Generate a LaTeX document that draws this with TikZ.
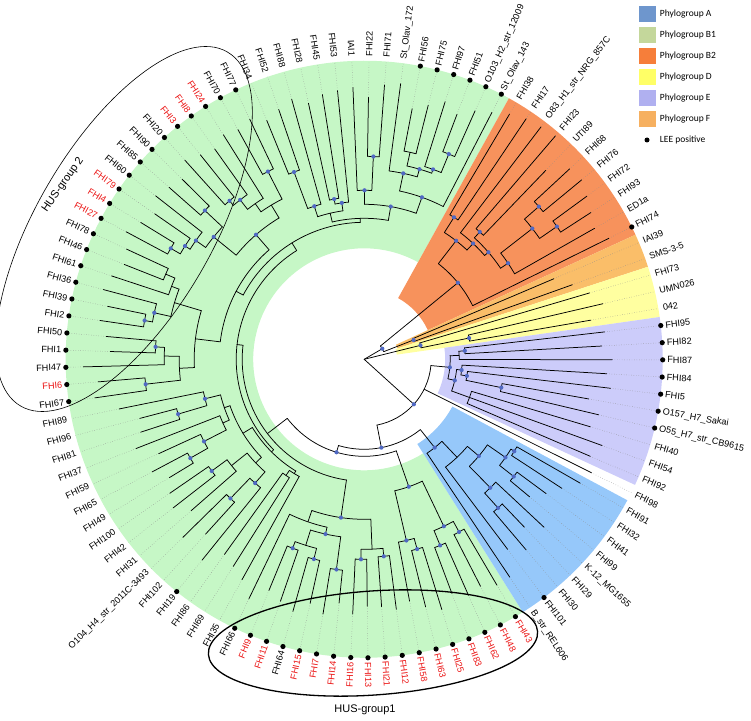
\documentclass[tikz,border=0pt]{standalone}
\usepackage{fontspec}
\setmainfont{Liberation Sans}
\newfontfamily\legfont{Carlito}
\usetikzlibrary{shapes.geometric}
\pgfdeclarelayer{fg}
\pgfsetlayers{main,fg}
\definecolor{secB1}{RGB}{198,247,198}
\definecolor{secB2}{RGB}{247,146,92}
\definecolor{secF}{RGB}{250,190,105}
\definecolor{secD}{RGB}{255,255,160}
\definecolor{secE}{RGB}{204,204,250}
\definecolor{secA}{RGB}{150,200,250}
\definecolor{legA}{RGB}{110,150,205}
\definecolor{legB1}{RGB}{196,215,155}
\definecolor{legB2}{RGB}{246,126,58}
\definecolor{legD}{RGB}{255,255,102}
\definecolor{legE}{RGB}{176,176,240}
\definecolor{legF}{RGB}{246,176,96}
\definecolor{ndot}{RGB}{80,105,195}
\definecolor{hred}{RGB}{235,20,20}
\def\dA{3.3027523}
\newcommand\thetaof[2]{\pgfmathsetmacro#1{6.5-(#2-1)*\dA}}
\tikzset{
  tline/.style={line width=0.75pt, black, line cap=round},
  dline/.style={line width=0.45pt, black!45, dotted},
  nodedot/.style={fill=ndot},
  lab/.style={inner sep=0pt, font=\fontsize{9.1}{10}\selectfont},
  legtext/.style={inner sep=0pt, font=\legfont\fontsize{9.5}{11}\selectfont},
  husA/.style={draw, ellipse, line width=1.3pt, inner sep=0pt},
  husB/.style={draw, ellipse, line width=0.6pt, inner sep=0pt},
}
\newcommand\cladecore[3]{%
  \gdef\cfirst{}%
  \foreach \cc in {#3}{\ifx\cfirst\empty\xdef\cfirst{\cc}\fi\xdef\clast{\cc}}%
  \edef\aF{\csname ai@\cfirst\endcsname}%
  \edef\aL{\csname ai@\clast\endcsname}%
  \pgfmathsetmacro\aM{(\aF+\aL)/2}%
  \expandafter\xdef\csname ai@#1\endcsname{\aM}%
  \expandafter\xdef\csname rr@#1\endcsname{#2}%
  \thetaof\tF\aF \thetaof\tL\aL
  \draw[tline] (\tF:#2pt) arc[start angle=\tF, end angle=\tL, radius=#2pt];
  \foreach \cc in {#3}{%
    \edef\ac{\csname ai@\cc\endcsname}\edef\rc{\csname rr@\cc\endcsname}%
    \thetaof\tc\ac
    \draw[tline] (\tc:#2pt) -- (\tc:\rc pt);}%
  \thetaof\tM\aM
  \coordinate (n-#1) at (\tM:#2pt);
}
\newcommand\cl[3]{\cladecore{#1}{#2}{#3}}
\newcommand\cld[3]{\cladecore{#1}{#2}{#3}\begin{pgfonlayer}{fg}\fill[nodedot] (n-#1) circle (2.1pt);\end{pgfonlayer}}
\newcommand\sector[5]{%
  \thetaof\sA{#2-0.5}\thetaof\sB{#3+0.5}%
  \fill[#1] (\sA:#4pt) arc[start angle=\sA, end angle=\sB, radius=#4pt] -- (\sB:#5pt) arc[start angle=\sB, end angle=\sA, radius=#5pt] -- cycle;}
\begin{document}
\begin{tikzpicture}[x=1pt,y=1pt]
\useasboundingbox (-364.2,-360.7) rectangle (386.8,359.3);
% sectors
\sector{secB1}{21}{93}{111}{298.5}
\sector{secB2}{94}{104}{70}{298.5}
\sector{secF}{105}{106}{35}{298.5}
\sector{secD}{107}{109}{33}{298.5}
\sector{secE}{1}{10}{81}{298.5}
\sector{secA}{12}{20}{100}{298.5}
% leaves: index / tip radius
\foreach \i/\r in {1/242,2/238,3/248,4/243,5/248,6/228,7/241,8/236,9/253,10/246,
 11/254,12/249,13/236,14/226,15/215,16/246,17/232,18/250,19/238,20/262,
 21/262,22/255,23/258,24/250,25/262,26/255,27/246,28/252,29/248,30/247,31/255,32/245,33/258,34/250,35/262,36/256,37/250,38/266,
 39/252,40/245,41/240,42/258,43/236,44/254,45/230,46/242,47/236,48/228,49/240,50/226,51/245,52/235,53/232,54/250,
 55/272,56/267,57/281,58/254,59/259,60/267,61/262,62/270,63/266,64/258,65/262,66/270,67/262,68/255,69/265,70/260,71/256,72/268,73/262,74/258,75/265,76/262,77/266,
 78/258,79/264,80/270,81/262,82/268,83/270,84/272,85/262,86/275,87/278,88/255,89/262,90/270,91/262,92/272,93/278,
 94/285,95/290,96/292,97/294,98/262,99/280,100/282,101/276,102/270,103/265,104/273,
 105/206,106/221,107/235,108/245,109/230}{%
  \expandafter\xdef\csname ai@\i\endcsname{\i}%
  \expandafter\xdef\csname rr@\i\endcsname{\r}%
  \thetaof\tc\i
  \coordinate (l-\i) at (\tc:\r pt);
  \draw[dline] (l-\i) -- (\tc:298.5pt);
}
% E
\cld{e1}{101}{1,2}
\cl{e2}{95}{e1,3}
\cld{e4}{140}{6,7}
\cld{e3}{104}{5,e4}
\cld{e5}{98}{4,e3}
\cl{e6}{112}{8,9,10}
\cld{e7}{93}{e5,e6}
\cld{nE}{86}{e2,e7}
% A
\cld{a1}{176}{12,13}
\cld{a2}{190}{14,15}
\cld{a3}{172}{a1,a2}
\cld{a4}{200}{17,18}
\cld{a5}{180}{16,a4}
\cld{a6}{150}{a3,a5}
\cl{a7}{135}{a6,19}
\cld{nA}{113}{a7,20}
% B1a
\cld{b1}{197}{21,22}
\cld{b2}{201}{23,24}
\cld{b3}{185}{b1,b2}
\cld{b4}{197}{25,26}
\cld{b5}{186}{b4,27}
\cld{nB1a}{135}{b3,b5}
% H
\cld{h1}{198}{28,29}
\cld{h2}{200}{30,31}
\cl{h3}{190}{h1,h2}
\cld{h4}{212}{32,33}
\cld{h5}{206}{34,35}
\cld{h6}{202}{36,37}
\cl{h7}{195}{h5,h6}
\cld{h8}{179}{h4,h7}
\cl{h9}{172}{h8,38}
\cld{nH}{160}{h3,h9}
% G1
\cl{g1}{140}{40,41}
\cl{g2}{134}{39,g1}
\cld{g3}{193}{43,44}
\cld{g4}{165}{42,g3}
\cld{g5}{189}{46,47}
\cl{g6}{170}{45,g5}
\cld{g7}{200}{48,49}
\cld{g8}{180}{g7,50}
\cl{g9}{155}{g8,51}
\cld{g10}{194}{52,53}
\cld{g11}{164}{g10,54}
\cl{g12}{148}{g9,g11}
\cl{g13}{150}{g4,g6}
\cl{g14}{142}{g13,g12}
\cl{nG1}{131}{g2,g14}
% G2
\cld{q1}{220}{55,56}
\cld{q2}{209}{58,59}
\cl{q3}{200}{57,q2}
\cld{q4}{223}{60,61}
\cld{q5}{215}{q4,62}
\cl{q6}{216}{64,65}
\cl{q7}{206}{63,q6}
\cl{q8}{198}{q5,q7}
\cld{q9}{223}{66,67}
\cld{q10}{212}{q9,68}
\cld{q11}{206}{q10,69}
\cld{q12}{218}{70,71}
\cld{q13}{194}{q11,q12}
\cld{q14}{208}{72,73}
\cld{q15}{202}{q14,74}
\cl{q16}{190}{q15,75}
\cld{q17}{211}{76,77}
\cl{q18}{180}{q16,q17}
\cl{q19}{185}{q1,q3}
\cl{q20}{170}{q19,q8}
\cld{q21}{165}{q13,q18}
\cl{nG2}{145}{q20,q21}
% G3
\cld{t1}{200}{78,79}
\cld{t2}{161}{t1,80}
\cld{t3}{163}{81,82}
\cld{t4}{158}{t3,83}
\cld{t5}{203}{85,86}
\cld{t6}{169}{84,t5}
\cld{t7}{222}{91,92}
\cld{t8}{202}{90,t7}
\cl{t9}{212}{88,89}
\cld{t11}{198}{t9,t8}
\cld{t10}{190}{87,t11}
\cld{t12}{172}{t10,93}
\cld{t13}{155}{t6,t12}
\cl{t14}{150}{t2,t4}
\cl{nG3}{141}{t14,t13}
% ladder
\cl{nN3}{137}{nG2,nG3}
\cl{nN2}{128}{nG1,nN3}
\cl{nN1}{122}{nH,nN2}
\cld{nB1}{97}{nB1a,nN1}
\cld{nd}{90}{nA,nB1}
% B2, F, D
\cld{x1}{168}{94,95}
\cld{z1}{172}{97,98}
\cld{r1}{232}{99,100}
\cld{s1}{234}{101,102}
\cld{q0}{213}{r1,s1}
\cld{v1}{173}{q0,103}
\cld{w1}{164}{z1,v1}
\cld{y1}{159}{96,w1}
\cld{nB2a}{150}{x1,y1}
\cld{nB2}{121}{nB2a,104}
\cld{nF}{53}{105,106}
\cld{nD1}{107}{108,109}
\cld{nD}{58}{107,nD1}
\cld{na}{21}{nB2,nF}
\cld{nc}{67}{nE,11,nd}
% root
\coordinate (root) at (0,0);
\foreach \cc in {nc,na,nD}{\draw[tline] (root) -- (n-\cc);}
% LEE dots
\foreach \i in {1,...,7,19,21,22,...,38,42,55,56,...,77,88,89,...,93,104}{%
  \thetaof\tc\i
  \fill (\tc:298.5pt) circle (2.6pt);
}
% labels
\foreach \i/\nm/\lc in {1/FHI95/black,2/FHI82/black,3/FHI87/black,4/FHI84/black,5/FHI5/black,
 6/O157\_H7\_Sakai/black,7/O55\_H7\_str\_CB9615/black,8/FHI40/black,9/FHI54/black,10/FHI92/black,
 11/FHI98/black,12/FHI91/black,13/FHI32/black,14/FHI41/black,15/FHI99/black,16/K-12\_MG1655/black,
 17/FHI29/black,18/FHI30/black,19/FHI101/black,20/B\_str\_REL606/black,
 21/FHI43/hred,22/FHI48/hred,23/FHI62/hred,24/FHI83/hred,25/FHI25/hred,26/FHI63/hred,27/FHI58/hred,
 28/FHI12/hred,29/FHI21/hred,30/FHI13/hred,31/FHI16/hred,32/FHI14/hred,33/FHI7/hred,34/FHI15/hred,
 35/FHI64/black,36/FHI11/hred,37/FHI9/hred,38/FHI66/black,39/FHI35/black,40/FHI69/black,41/FHI86/black,
 42/FHI19/black,43/FHI102/black,44/O104\_H4\_str\_2011C-3493/black,45/FHI31/black,46/FHI42/black,
 47/FHI100/black,48/FHI49/black,49/FHI65/black,50/FHI59/black,51/FHI37/black,52/FHI81/black,
 53/FHI96/black,54/FHI89/black,55/FHI67/black,56/FHI6/hred,57/FHI47/black,58/FHI1/black,59/FHI50/black,
 60/FHI2/black,61/FHI39/black,62/FHI36/black,63/FHI61/black,64/FHI46/black,65/FHI78/black,
 66/FHI27/hred,67/FHI4/hred,68/FHI79/hred,69/FHI60/black,70/FHI85/black,71/FHI90/black,72/FHI20/black,
 73/FHI3/hred,74/FHI8/hred,75/FHI24/hred,76/FHI70/black,77/FHI77/black,78/FHI34/black,79/FHI52/black,
 80/FHI88/black,81/FHI28/black,82/FHI45/black,83/FHI53/black,84/IAI1/black,85/FHI22/black,86/FHI71/black,
 87/St\_Olav\_172/black,88/FHI56/black,89/FHI75/black,90/FHI97/black,91/FHI51/black,
 92/O103\_H2\_str\_12009/black,93/St\_Olav\_143/black,94/FHI38/black,95/FHI17/black,
 96/O83\_H1\_str\_NRG\_857C/black,97/FHI23/black,98/UTI89/black,99/FHI68/black,100/FHI76/black,
 101/FHI72/black,102/FHI93/black,103/ED1a/black,104/FHI74/black,105/IAI39/black,106/SMS-3-5/black,
 107/FHI73/black,108/UMN026/black,109/042/black}{%
  \thetaof\tc\i
  \pgfmathsetmacro\tn{\tc < -270 ? \tc+360 : \tc}%
  \pgfmathtruncatemacro\isright{\tn > -90 ? 1 : 0}%
  \ifnum\isright=1
    \node[lab,text=\lc,anchor=west,rotate=\tn] (L\i) at (\tc:303pt) {\nm};
  \else
    \pgfmathsetmacro\rt{\tn+180}%
    \node[lab,text=\lc,anchor=east,rotate=\rt] (L\i) at (\tc:303pt) {\nm};
  \fi
}
% HUS groups
\node[husA, minimum width=330pt, minimum height=104pt, rotate=4] (hus1) at (8.8,-283.7) {};
\node[font=\fontsize{11}{13}\selectfont, inner sep=0pt] (hus1t) at (0.8,-350.7) {HUS-group1};
\node[husB, minimum width=410pt, minimum height=176pt, rotate=59.7] (hus2) at (-240.2,130.3) {};
\node[font=\fontsize{11}{13}\selectfont, inner sep=0pt, rotate=55] (hus2t) at (-301.2,174.3) {HUS-group 2};
% legend
\foreach \k/\y/\c/\t in {A/345.3/legA/Phylogroup A,B1/324.3/legB1/Phylogroup B1,B2/303.3/legB2/Phylogroup B2,
  D/282.3/legD/Phylogroup D,E/261.3/legE/Phylogroup E,F/240.3/legF/Phylogroup F}{%
  \node[fill=\c, minimum width=17pt, minimum height=16pt, inner sep=0pt] (lg\k) at (283.3,\y) {};
  \node[legtext, anchor=west] (lt\k) at (295.5,\y) {\t};
}
\node[circle, fill=black, inner sep=0pt, minimum size=5pt] (lgdot) at (282.8,219.3) {};
\node[legtext, anchor=west] (ltLEE) at (295.5,219.3) {LEE positive};
\end{tikzpicture}
\end{document}
